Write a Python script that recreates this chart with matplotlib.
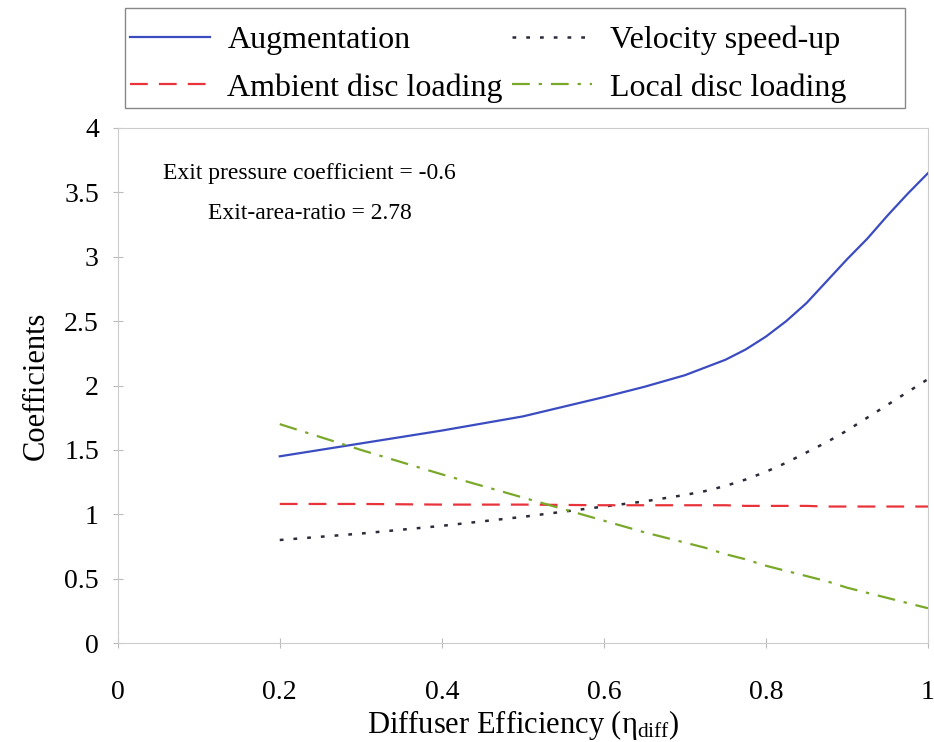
import numpy as np
from matplotlib import pyplot as plt
from matplotlib.patches import Rectangle

plt.rcParams['font.family'] = ['Liberation Serif', 'DejaVu Serif']

# data
eff = [0.2, 0.3, 0.4, 0.5, 0.6, 0.65, 0.7, 0.725, 0.75, 0.775, 0.8, 0.825,
       0.85, 0.875, 0.9, 0.925, 0.95, 0.975, 1.0]
augmentation = [1.45, 1.55, 1.65, 1.76, 1.91, 1.99, 2.08, 2.14, 2.2, 2.28, 2.38, 2.5,
                2.64, 2.81, 2.98, 3.14, 3.32, 3.49, 3.65]
speed_up = [0.8, 0.85, 0.91, 0.98, 1.06, 1.1, 1.15, 1.18, 1.22, 1.27, 1.33, 1.4,
            1.48, 1.56, 1.65, 1.75, 1.85, 1.95, 2.05]
ambient = [1.08, 1.08, 1.075, 1.075, 1.07, 1.07, 1.07, 1.07, 1.07, 1.065, 1.065, 1.065,
           1.065, 1.06, 1.06, 1.06, 1.06, 1.06, 1.06]
local = [1.7, 1.5, 1.31, 1.13, 0.95, 0.86, 0.78, 0.74, 0.69, 0.65, 0.6, 0.56,
         0.52, 0.48, 0.43, 0.39, 0.35, 0.31, 0.27]

fig = plt.figure(figsize=(9.34, 7.42), dpi=100)
ax = fig.add_axes([0.126, 0.1334, 0.8676, 0.6941])

l1, = ax.plot(eff, augmentation, color='#3b4cc0', lw=1.6, label='Augmentation')
l2, = ax.plot(eff, speed_up, color='#2b2b3a', lw=1.8, dashes=(1.5, 4), label='Velocity speed-up')
l3, = ax.plot(eff, ambient, color='#e8333a', lw=1.6, dashes=(8, 5), label='Ambient disc loading')
l4, = ax.plot(eff, local, color='#7aa82a', lw=1.6, dashes=(8, 4, 1.5, 4), label='Local disc loading')

ax.set_xlim(0, 1)
ax.set_ylim(0, 4)
ax.set_xticks([0, 0.2, 0.4, 0.6, 0.8, 1])
ax.set_xticklabels(['0', '0.2', '0.4', '0.6', '0.8', '1'])
ax.set_yticks(np.arange(0, 4.01, 0.5))
ax.set_yticklabels(['0', '0.5', '1', '1.5', '2', '2.5', '3', '3.5', '4'])
ax.tick_params(labelsize=20, direction='inout', length=7, color='#bbbbbb')
ax.tick_params(axis='x', pad=23)
ax.tick_params(axis='y', pad=10)
for s in ax.spines.values():
    s.set_color('#cccccc')

ax.set_xlabel(r'Diffuser Efficiency ($\mathregular{\eta_{diff}}$)', fontsize=22, labelpad=2)
ax.set_ylabel('Coefficients', fontsize=22, labelpad=10)

ax.text(0.237, 3.49, 'Exit pressure coefficient = -0.6\nExit-area-ratio = 2.78',
        fontsize=17, ha='center', va='center', linespacing=2.15)

# legend drawn without frame, the box is a separate rectangle
leg = fig.legend(handles=[l1, l3, l2, l4], ncol=2, loc='upper left',
                 bbox_to_anchor=(0.139, 0.965), frameon=False, borderpad=0,
                 borderaxespad=0, fontsize=23, handlelength=2.5, handletextpad=0.55,
                 columnspacing=0.3, labelspacing=0.55)
fig.patches.append(Rectangle((0.1338, 0.8544), 0.835, 0.1348, transform=fig.transFigure,
                             fill=False, edgecolor='#888888', lw=1.0))

fig.savefig('out.png', dpi=100)
